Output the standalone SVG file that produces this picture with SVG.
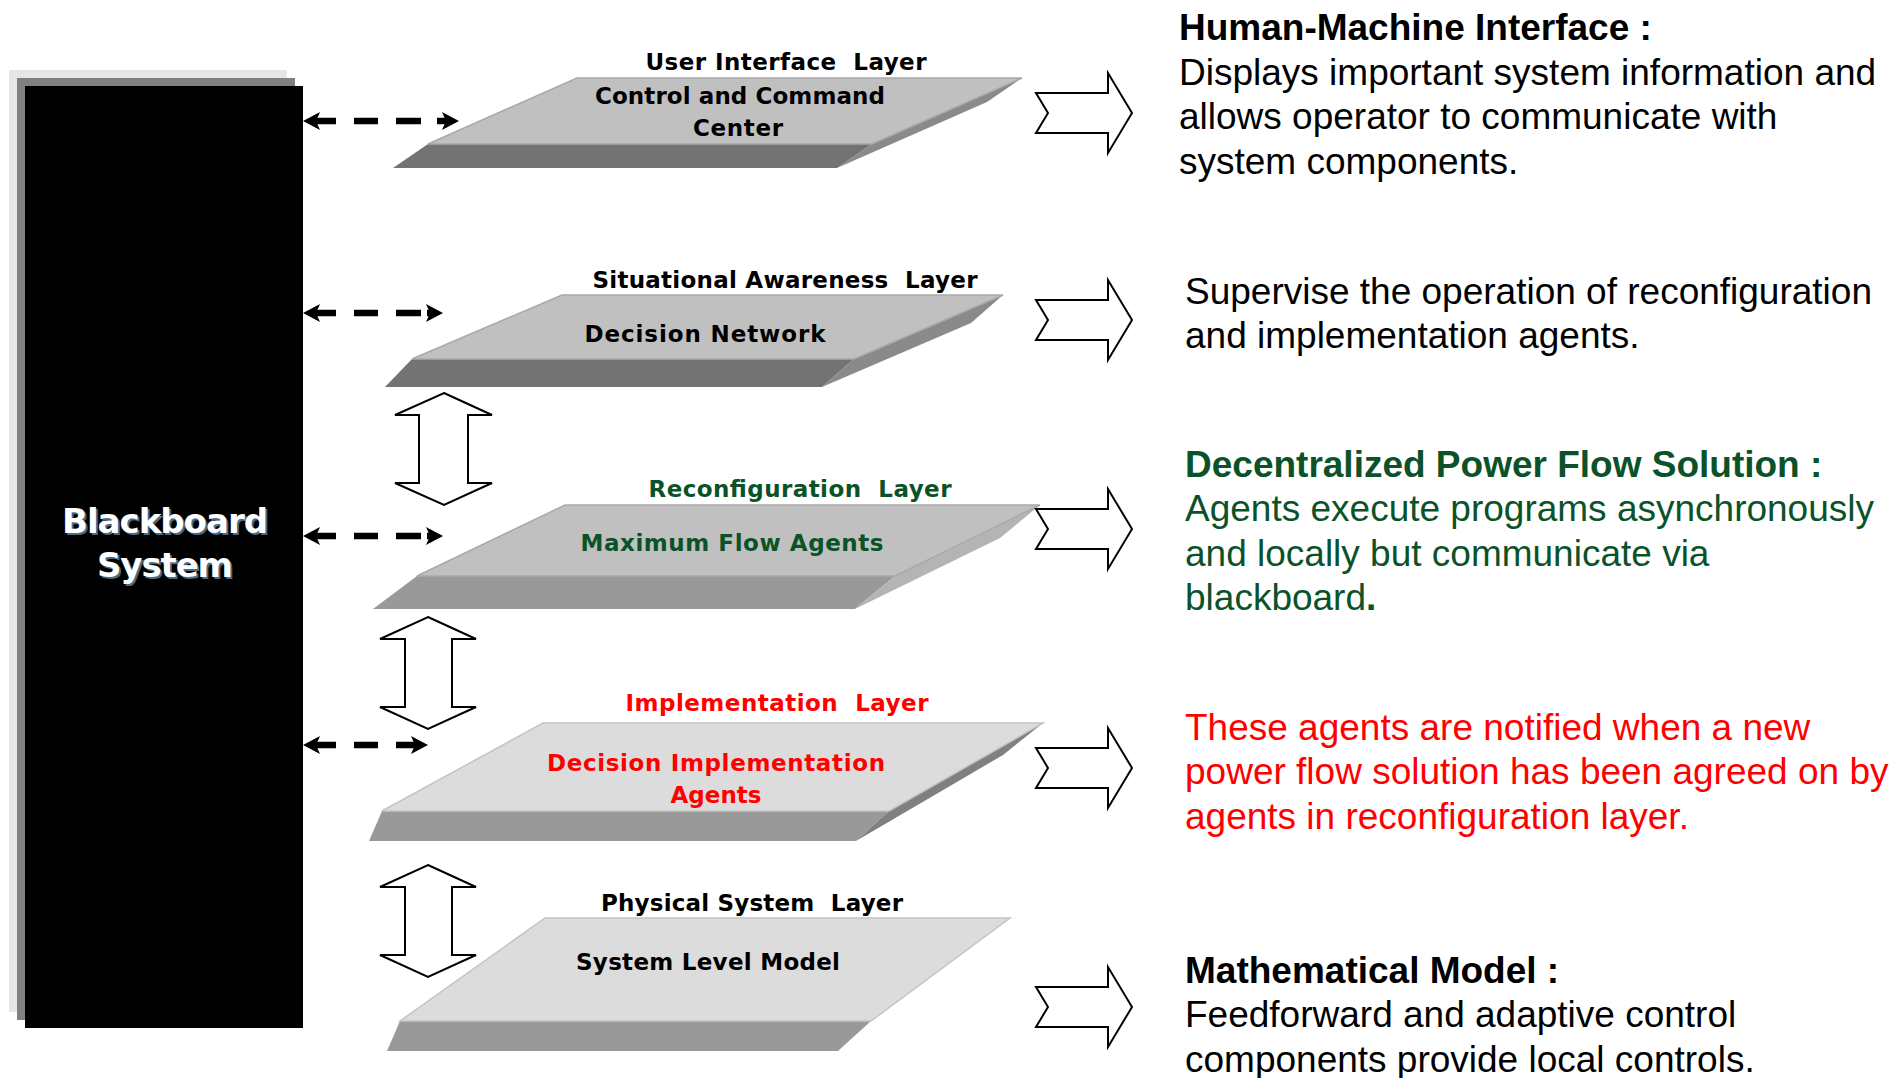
<svg xmlns="http://www.w3.org/2000/svg" width="1894" height="1078" viewBox="0 0 1894 1078">
<style>
.lbl{font-family:"DejaVu Sans","Liberation Sans",sans-serif;font-weight:bold;font-size:23px;text-anchor:middle;white-space:pre}
.bb{font-family:"DejaVu Sans","Liberation Sans",sans-serif;font-weight:bold;font-size:34px;text-anchor:middle}
.rt{font-family:"Liberation Sans",Arial,sans-serif;font-size:37px}
.rtb{font-family:"Liberation Sans",Arial,sans-serif;font-size:37px;font-weight:bold}
.blk{fill:#000}
.grn{fill:#0b5229}
.red{fill:#ff0000}
.dash{fill:none;stroke:#000;stroke-width:6.5;marker-start:url(#head);marker-end:url(#head)}
.block{fill:#fff;stroke:#000;stroke-width:2;stroke-linejoin:miter}
.topA{fill:#c0c0c0;stroke:#a9a9a9;stroke-width:1.5}
.topB{fill:#dcdcdc;stroke:#c4c4c4;stroke-width:1.5}
</style>
<defs>
<marker id="head" markerUnits="userSpaceOnUse" markerWidth="30" markerHeight="30" refX="0" refY="0" orient="auto-start-reverse" overflow="visible" viewBox="-15 -15 30 30">
<path d="M10,0 L-7,-9 L-3,0 L-7,9 Z" fill="#000"/>
</marker>
</defs>
<rect width="1894" height="1078" fill="#fff"/>

<g id="blackboard">
<rect x="9" y="70" width="278" height="942" fill="#e6e6e6"/>
<rect x="17" y="78" width="278" height="942" fill="#808080"/>
<rect x="25" y="86" width="278" height="942" fill="#000"/>
<text class="bb" x="167" y="535" fill="#4a6a85" textLength="206">Blackboard</text>
<text class="bb" x="167" y="579" fill="#4a6a85" textLength="136">System</text>
<text class="bb" x="165" y="533" fill="#fff" textLength="206">Blackboard</text>
<text class="bb" x="165" y="577" fill="#fff" textLength="136">System</text>
</g>

<g id="layer-ui">
<polygon points="428,144 872,144 837,168 393,168" fill="#737373"/>
<polygon points="1022,78 872,144 837,168 987,102" fill="#8a8a8a"/>
<polygon class="topA" points="577,78 1022,78 872,144 428,144"/>
<text class="lbl blk" x="786" y="70" textLength="281">User Interface  Layer</text>
<text class="lbl blk" x="740" y="104" textLength="290">Control and Command</text>
<text class="lbl blk" x="738" y="136" textLength="90">Center</text>
</g>

<g id="layer-sa">
<polygon points="412,359 854,359 822,387 385,387" fill="#737373"/>
<polygon points="1003,295 854,359 822,387 971,323" fill="#8a8a8a"/>
<polygon class="topA" points="562,295 1003,295 854,359 412,359"/>
<text class="lbl blk" x="785" y="288" textLength="385">Situational Awareness  Layer</text>
<text class="lbl blk" x="705" y="342" textLength="241">Decision Network</text>
</g>

<g id="layer-reconf">
<polygon points="417,576 895,576 855,609 373,609" fill="#999999"/>
<polygon points="1040,505 895,576 855,609 1000,538" fill="#b4b4b4"/>
<polygon class="topA" points="565,505 1040,505 895,576 417,576"/>
<text class="lbl grn" x="800" y="497" textLength="303">Reconfiguration  Layer</text>
<text class="lbl grn" x="732" y="551" textLength="303">Maximum Flow Agents</text>
</g>

<g id="layer-impl">
<polygon points="382,811 889,811 856,841 369,841" fill="#999999"/>
<polygon points="1043,723 889,811 856,841 1003,755" fill="#808080"/>
<polygon class="topB" points="543,723 1043,723 889,811 382,811"/>
<text class="lbl red" x="777" y="711" textLength="303">Implementation  Layer</text>
<text class="lbl red" x="716" y="771" textLength="338">Decision Implementation</text>
<text class="lbl red" x="716" y="803" textLength="91">Agents</text>
</g>

<g id="layer-phys">
<polygon points="400,1021 871,1021 838,1051 387,1051" fill="#999999"/>
<polygon class="topB" points="545,918 1010,918 871,1021 400,1021"/>
<text class="lbl blk" x="752" y="911" textLength="302">Physical System  Layer</text>
<text class="lbl blk" x="708" y="970" textLength="264">System Level Model</text>
</g>

<g id="connectors">
<path class="dash" d="M313,121 H336 M354,121 H378 M396,121 H421 M437,121 H449"/>
<path class="dash" d="M313,313 H336 M354,313 H378 M396,313 H421 M427,313 H433"/>
<path class="dash" d="M313,536 H336 M354,536 H378 M396,536 H421 M427,536 H433"/>
<path class="dash" d="M313,745 H336 M354,745 H378 M396,745 H418"/>
<path class="block" d="M444,393 L492,415 L468,415 L468,483 L492,483 L444,505 L395,483 L419,483 L419,415 L395,415 Z"/>
<path class="block" d="M428,617 L476,639 L452,639 L452,707 L476,707 L428,729 L380,707 L405,707 L405,639 L380,639 Z"/>
<path class="block" d="M428,865 L476,887 L452,887 L452,955 L476,955 L428,977 L380,955 L405,955 L405,887 L380,887 Z"/>
<path class="block" d="M1036,93 L1108,93 L1108,73 L1132,113 L1108,153 L1108,133 L1036,133 L1048,113 Z"/>
<path class="block" d="M1036,300 L1108,300 L1108,280 L1132,320 L1108,360 L1108,340 L1036,340 L1048,320 Z"/>
<path class="block" d="M1036,509 L1108,509 L1108,489 L1132,529 L1108,569 L1108,549 L1036,549 L1048,529 Z"/>
<path class="block" d="M1036,748 L1108,748 L1108,728 L1132,768 L1108,808 L1108,788 L1036,788 L1048,768 Z"/>
<path class="block" d="M1036,987 L1108,987 L1108,967 L1132,1007 L1108,1047 L1108,1027 L1036,1027 L1048,1007 Z"/>
</g>

<g id="desc-hmi">
<text class="rtb blk" x="1179" y="40">Human-Machine Interface :</text>
<text class="rt blk" x="1179" y="85">Displays important system information and</text>
<text class="rt blk" x="1179" y="129">allows operator to communicate with</text>
<text class="rt blk" x="1179" y="174">system components.</text>
</g>
<g id="desc-sa">
<text class="rt blk" x="1185" y="304">Supervise the operation of reconfiguration</text>
<text class="rt blk" x="1185" y="348">and implementation agents.</text>
</g>
<g id="desc-reconf">
<text class="rtb grn" x="1185" y="477">Decentralized Power Flow Solution :</text>
<text class="rt grn" x="1185" y="521">Agents execute programs asynchronously</text>
<text class="rt grn" x="1185" y="566">and locally but communicate via</text>
<text class="rt grn" x="1185" y="610">blackboard<tspan font-weight="bold">.</tspan></text>
</g>
<g id="desc-impl">
<text class="rt red" x="1185" y="740">These agents are notified when a new</text>
<text class="rt red" x="1185" y="784">power flow solution has been agreed on by</text>
<text class="rt red" x="1185" y="829">agents in reconfiguration layer.</text>
</g>
<g id="desc-phys">
<text class="rtb blk" x="1185" y="983">Mathematical Model :</text>
<text class="rt blk" x="1185" y="1027">Feedforward and adaptive control</text>
<text class="rt blk" x="1185" y="1072">components provide local controls.</text>
</g>
</svg>
